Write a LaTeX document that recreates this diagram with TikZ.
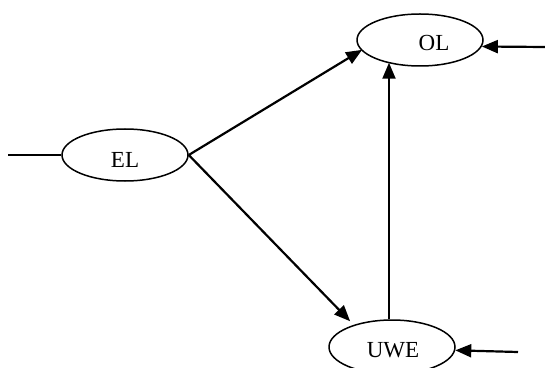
\documentclass[tikz,border=0pt]{standalone}
\usepackage{fontspec}
\setmainfont{Liberation Serif}
\usetikzlibrary{shapes.geometric,arrows.meta}
\begin{document}
\begin{tikzpicture}[x=1pt,y=1pt,
  ell/.style={draw,ellipse,line width=1.5pt,minimum width=126pt,minimum height=52pt,inner sep=0pt},
  lbl/.style={font=\fontsize{23}{26}\selectfont,inner sep=0pt},
  arr/.style={line width=2.2pt,-{Triangle[length=16pt,width=13pt]}}]
\useasboundingbox (0,0) rectangle (545,367);
\node[ell] (EL) at (125,212) {};
\node[ell] (OL) at (420,327) {};
\node[ell,minimum height=54pt] (UWE) at (392,20) {};
\node[lbl] (tEL) at (125,207) {EL};
\node[lbl] (tOL) at (434,324) {OL};
\node[lbl] (tUWE) at (393,17) {UWE};
\coordinate (lin) at (8,212);
\coordinate (inOL) at (545,320);
\coordinate (inUWE) at (518,15);
\draw[line width=1.2pt] (lin) -- (EL.west);
\draw[arr,shorten >=-1pt] (EL.east) -- (OL.190);
\draw[arr,shorten >=5pt] (EL.east) -- (UWE.150);
\draw[arr,shorten >=-4pt] ([xshift=-3pt]UWE.north) -- ([xshift=-3pt]UWE.north |- OL.south);
\draw[arr] (inOL) -- (OL.-6);
\draw[arr] (inUWE) -- (UWE.-3);
\end{tikzpicture}
\end{document}
